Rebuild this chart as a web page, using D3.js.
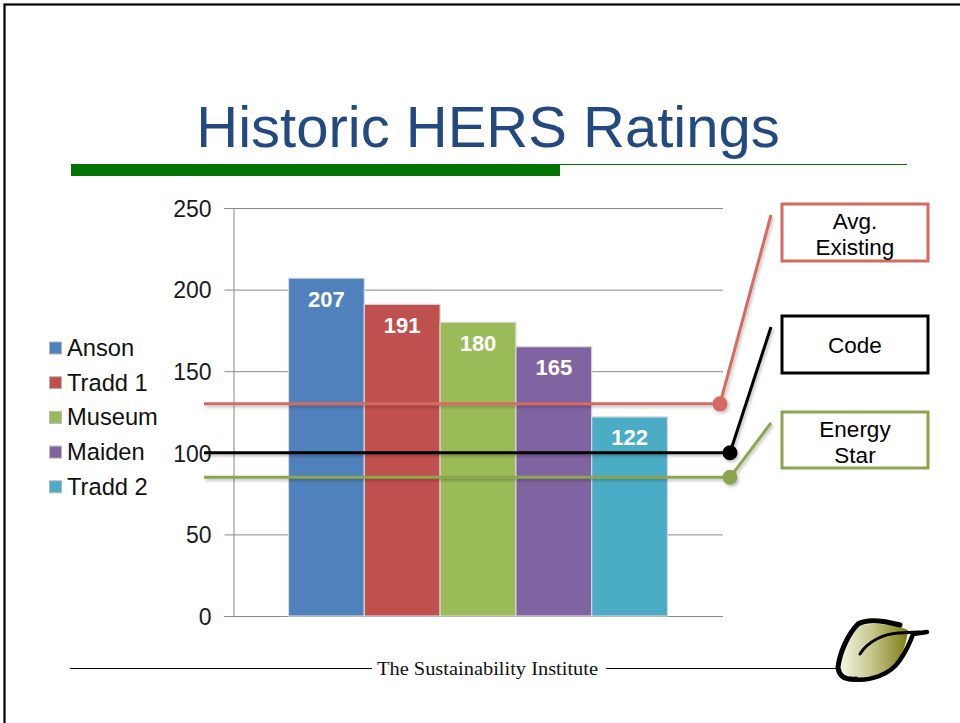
<!DOCTYPE html>
<html><head><meta charset="utf-8">
<script src="https://cdn.jsdelivr.net/npm/d3@7"></script>
<style>body{margin:0;background:#fff}svg{display:block}</style>
</head><body>
<script>
const categories = ["Anson","Tradd 1","Museum","Maiden","Tradd 2"];
const values = [207,191,180,165,122];
const barColors = ["#4F81BD","#C0504D","#9BBB59","#8064A2","#4BACC6"];
const yTicks = [0,50,100,150,200,250];
const refNames = ["Avg. Existing","Code","Energy Star"];
const refLabelLines = [["Avg.","Existing"],["Code"],["Energy","Star"]];
const refValues = [130,100,85];
const refColors = ["#D46A62","#000000","#8BA64E"];
const titleText = "Historic HERS Ratings";
const footerText = "The Sustainability Institute";

const W = 960, H = 723;
const svg = d3.select("body").append("svg").attr("width", W).attr("height", H);
const defs = svg.append("defs");
const sh = defs.append("filter").attr("id","shadow").attr("x","-5%").attr("y","-50%").attr("width","110%").attr("height","300%");
sh.append("feDropShadow").attr("dx",1.5).attr("dy",2).attr("stdDeviation",1.5).attr("flood-color","#000").attr("flood-opacity",0.25);

// slide frame
svg.append("rect").attr("x",4.5).attr("y",4.5).attr("width",W+10).attr("height",H+10)
  .attr("fill","none").attr("stroke","#000").attr("stroke-width",2.2);

// title
svg.append("text").attr("x",488).attr("y",147).attr("text-anchor","middle")
  .attr("font-family","'Liberation Sans', Arial, sans-serif").attr("font-size",58)
  .attr("fill","#224A80").text(titleText);
svg.append("rect").attr("x",71).attr("y",164).attr("width",489).attr("height",12).attr("fill","#037303");
svg.append("line").attr("x1",560).attr("x2",907).attr("y1",164.5).attr("y2",164.5).attr("stroke","#037303").attr("stroke-width",1.2);

// scales
const plotL = 233, plotR = 723, plotT = 208, plotB = 616;
const y = d3.scaleLinear().domain([0,250]).range([plotB, plotT]);
const x = d3.scaleBand().domain(categories).range([plotL, plotR]).paddingInner(0).paddingOuter(0.732);

// gridlines
const g = svg.append("g");
g.selectAll("line.grid").data(yTicks).join("line").attr("class","grid")
  .attr("x1",plotL).attr("x2",plotR).attr("y1",d=>y(d)+0.5).attr("y2",d=>y(d)+0.5)
  .attr("stroke","#8a8a8a").attr("stroke-width",1);

// axis
const yAxis = d3.axisLeft(y).tickValues(yTicks).tickSize(9).tickPadding(13);
const ax = svg.append("g").attr("transform",`translate(${plotL+0.5},0)`).call(yAxis);
ax.select(".domain").attr("stroke","#8a8a8a");
ax.selectAll(".tick line").attr("stroke","#8a8a8a");
ax.selectAll(".tick text").attr("font-family","'Liberation Sans', Arial, sans-serif")
  .attr("font-size",23).attr("fill","#1a1a1a").attr("dy","0.36em");

// bars
svg.append("g").selectAll("rect").data(categories).join("rect")
  .attr("x",d=>x(d)).attr("width",x.bandwidth())
  .attr("y",(d,i)=>y(values[i])).attr("height",(d,i)=>plotB - y(values[i]))
  .attr("fill",(d,i)=>barColors[i]).attr("stroke","#d8d8d8").attr("stroke-width",1.2);

svg.append("g").selectAll("text").data(categories).join("text")
  .attr("x",d=>x(d)+x.bandwidth()/2).attr("y",(d,i)=>y(values[i])+28.5)
  .attr("text-anchor","middle").attr("font-family","'Liberation Sans', Arial, sans-serif")
  .attr("font-weight","bold").attr("font-size",22).attr("fill","#fff")
  .text((d,i)=>values[i]);

// legend
const lg = svg.append("g");
categories.forEach((c,i)=>{
  const cy = 348 + i*34.7;
  lg.append("rect").attr("x",49.5).attr("y",cy-6).attr("width",12).attr("height",12)
    .attr("fill",barColors[i]).attr("stroke","#b8b8b8").attr("stroke-width",1);
  lg.append("text").attr("x",67).attr("y",cy+8).attr("font-family","'Liberation Sans', Arial, sans-serif")
    .attr("font-size",23.7).attr("fill","#111").text(c);
});

// reference lines with callouts
const dotX = [720,730,730];
const leaderTop = [[771,215],[771,327],[771,423]];
const boxes = [[782,204,146,57],[782,316,146,57],[782,412,146,56]];
const firstBaseline = [229,353,437];
refValues.forEach((v,i)=>{
  const ry = y(v);
  const grp = svg.append("g").attr("filter","url(#shadow)");
  grp.append("line").attr("x1",204).attr("x2",dotX[i]).attr("y1",ry).attr("y2",ry)
    .attr("stroke",refColors[i]).attr("stroke-width",3);
  grp.append("line").attr("x1",dotX[i]).attr("y1",ry).attr("x2",leaderTop[i][0]).attr("y2",leaderTop[i][1])
    .attr("stroke",refColors[i]).attr("stroke-width",3);
  grp.append("circle").attr("cx",dotX[i]).attr("cy",ry).attr("r",7.5).attr("fill",refColors[i]);
  const b = boxes[i];
  svg.append("rect").attr("x",b[0]).attr("y",b[1]).attr("width",b[2]).attr("height",b[3])
    .attr("fill","#fff").attr("stroke",refColors[i]).attr("stroke-width",3);
  refLabelLines[i].forEach((t,j)=>{
    svg.append("text").attr("x",b[0]+b[2]/2).attr("y",firstBaseline[i]+j*25.5)
      .attr("text-anchor","middle").attr("font-family","'Liberation Sans', Arial, sans-serif")
      .attr("font-size",22.5).attr("fill","#000").text(t);
  });
});

// footer
svg.append("line").attr("x1",70).attr("x2",372).attr("y1",668.5).attr("y2",668.5).attr("stroke","#000").attr("stroke-width",1.2);
svg.append("line").attr("x1",606).attr("x2",836).attr("y1",668.5).attr("y2",668.5).attr("stroke","#000").attr("stroke-width",1.2);
svg.append("text").attr("x",377).attr("y",675).attr("font-family","'Liberation Serif', serif")
  .attr("font-size",19).attr("textLength",221).attr("lengthAdjust","spacingAndGlyphs")
  .attr("fill","#111").text(footerText);

// logo leaf
const lgGrad = defs.append("linearGradient").attr("id","leaf").attr("x1","0").attr("x2","1").attr("y1","0").attr("y2","0");
lgGrad.append("stop").attr("offset","0").attr("stop-color","#f7f7e6");
lgGrad.append("stop").attr("offset","0.45").attr("stop-color","#c8c890");
lgGrad.append("stop").attr("offset","1").attr("stop-color","#7e7e14");
svg.append("path").attr("d","M856,626 C846,640 840,655 840,666 C842,678 860,680 880,676 C896,670 906,650 908,630 C896,624 874,622 856,626 Z")
  .attr("fill","url(#leaf)");
svg.append("path").attr("d","M900,625 C885,621 868,618 858,624 C848,634 840,652 838,667 C839,677 846,680 856,679")
  .attr("fill","none").attr("stroke","#000").attr("stroke-width",5).attr("stroke-linecap","round");
svg.append("path").attr("d","M850,679 C870,682 890,675 900,660 C908,648 911,640 913,634 L927,632")
  .attr("fill","none").attr("stroke","#000").attr("stroke-width",4.5).attr("stroke-linecap","round");
svg.append("path").attr("d","M860,654 C868,641 884,634 898,633 L919,632")
  .attr("fill","none").attr("stroke","#000").attr("stroke-width",3).attr("stroke-linecap","round");
</script>
</body></html>
